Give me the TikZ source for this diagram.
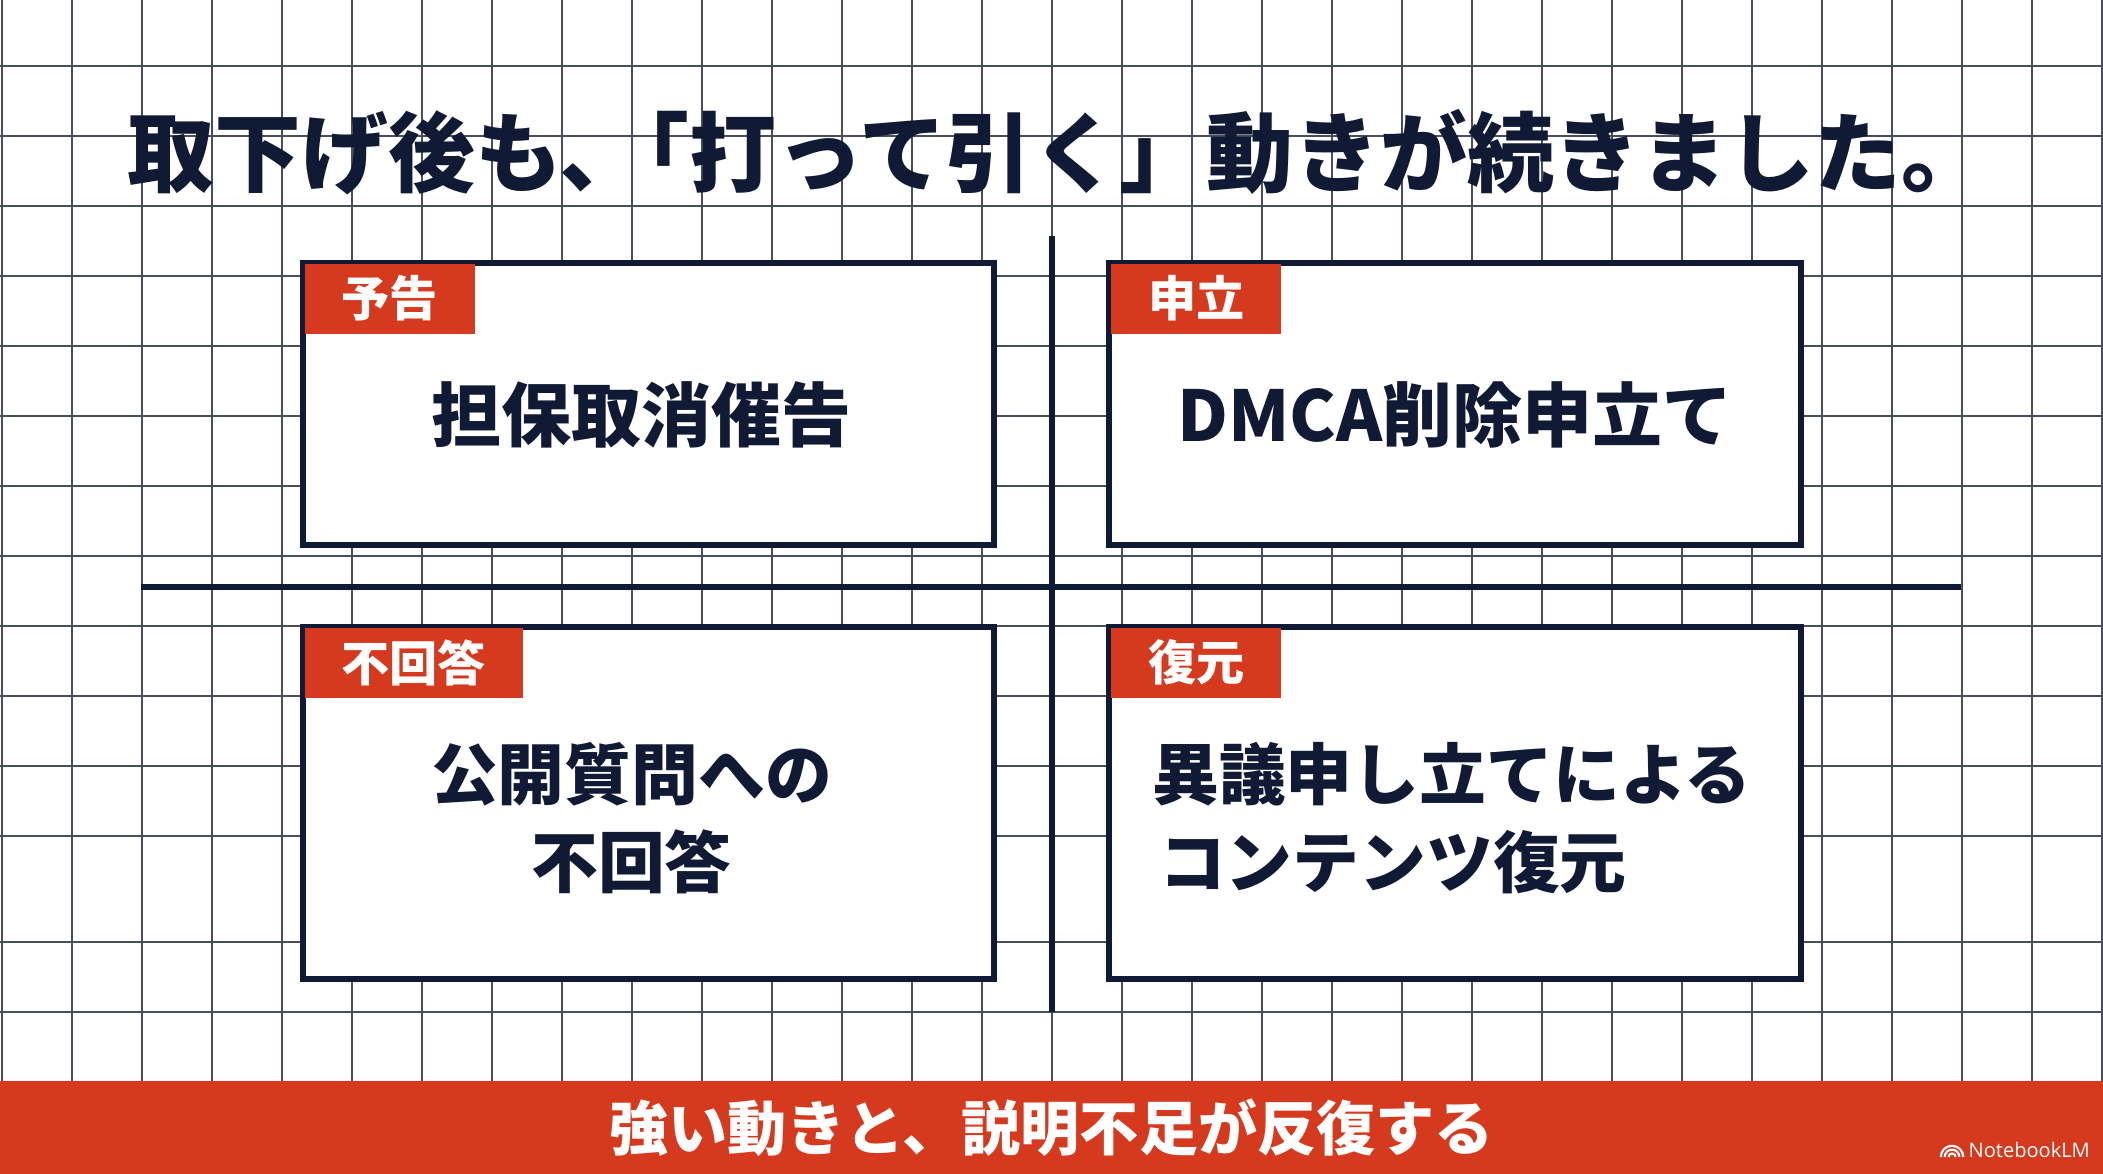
\documentclass[tikz,border=0pt]{standalone}
\usepackage{fontspec}
\newfontfamily\jpfont{Noto Sans CJK JP}
\newfontfamily\logofont{Open Sans}
\usetikzlibrary{positioning,calc}
\definecolor{inkblue}{RGB}{16,26,52}
\definecolor{signal}{RGB}{213,57,30}
\definecolor{gridline}{RGB}{72,78,92}
\tikzset{
  card/.style={draw=inkblue,line width=1.7pt,fill=white,minimum width=6.91cm,
    minimum height=#1,inner sep=0pt},
  card/.default=2.82cm,
  badge/.style={fill=signal,text=white,font=\jpfont\bfseries\fontsize{13.7pt}{16pt}\selectfont,
    inner xsep=0.37cm,inner ysep=0pt,minimum height=0.7cm},
  bigtext/.style={text=inkblue,font=\jpfont\bfseries\fontsize{#1}{25pt}\selectfont,
    align=center,inner sep=0pt},
  bigtext/.default=19.5pt,
  headline/.style={text=inkblue,font=\jpfont\bfseries\fontsize{24.7pt}{28pt}\selectfont,inner sep=0pt},
  banner/.style={fill=signal,text=white,font=\jpfont\bfseries\fontsize{16.8pt}{20pt}\selectfont,
    minimum width=21.03cm,minimum height=0.93cm,inner sep=0pt},
  divider/.style={draw=inkblue,line width=1.7pt},
  paper/.style={draw=gridline,line width=0.6pt},
}
\begin{document}
\begin{tikzpicture}[x=0.01cm,y=-0.01cm]
  \useasboundingbox (0,0) rectangle (2103,1174);
  \fill[white] (0,0) rectangle (2103,1174);
  % grid paper
  \foreach \gx in {2,72,...,2102} \draw[paper] (\gx,0) -- (\gx,1081);
  \foreach \gy in {66,136,...,836} \draw[paper] (0,\gy) -- (2103,\gy);
  \foreach \gy in {942,1012} \draw[paper] (0,\gy) -- (2103,\gy);
  % title
  \node[headline] (title) at (1058,152) {取下げ後も、\kern-0.5em「打って引く」動きが続きました。};
  % cross
  \coordinate (hl) at (141,587); \coordinate (hr) at (1961,587);
  \coordinate (vt) at (1052,236); \coordinate (vb) at (1052,1012);
  \draw[divider] (hl) -- (hr);
  \draw[divider] (vt) -- (vb);
  % four cards
  \node[card] (yokoku) at (648.5,404) {};
  \node[card] (moushitate) at (1455,404) {};
  \node[card=3.52cm] (kaitou) at (648.5,803) {};
  \node[card=3.52cm] (fukugen) at (1455,803) {};
  \node[badge,below right=0.03cm and 0.04cm of yokoku.north west] (yokokutag) {予告};
  \node[badge,below right=0.03cm and 0.04cm of moushitate.north west] (moushitatetag) {申立};
  \node[badge,below right=0.03cm and 0.04cm of kaitou.north west] (kaitoutag) {不回答};
  \node[badge,below right=0.03cm and 0.04cm of fukugen.north west] (fukugentag) {復元};
  \node[bigtext=19.9pt] (yokokutxt) at ([xshift=-0.07cm,yshift=-0.11cm]yokoku.center) {担保取消催告};
  \node[bigtext=19.9pt] (moushitatetxt) at ([yshift=-0.11cm]moushitate.center) {DMCA削除申立て};
  \node[bigtext=19pt] (kaitoutxt) at ([xshift=-0.17cm,yshift=-0.15cm]kaitou.center) {公開質問への\\不回答};
  \node[bigtext=19pt,align=left] (fukugentxt) at ([xshift=-0.03cm,yshift=-0.15cm]fukugen.center) {異議申し立てによる\\\kern0.1em コンテンツ復元};
  % footer
  \node[banner] (footer) at (1051.5,1127.5) {強い動きと、説明不足が反復する};
  \node[anchor=west,text=white,font=\logofont\fontsize{5.7pt}{7pt}\selectfont,inner sep=0pt] (nlm) at (1968,1150) {NotebookLM};
  \begin{scope}[shift={(1952,1157)},x=1pt,y=1pt]
    \foreach \r in {1,2.1,3.2} \draw[white,line width=0.6pt] (-\r,0) arc[start angle=180,end angle=0,radius=\r];
  \end{scope}
\end{tikzpicture}
\end{document}
